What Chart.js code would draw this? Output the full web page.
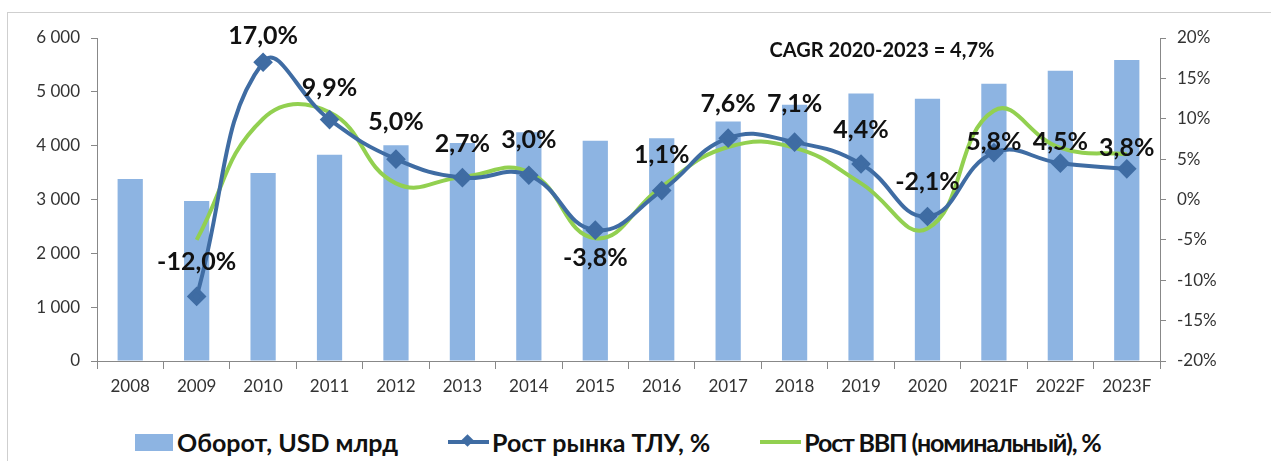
<!DOCTYPE html>
<html>
<head>
<meta charset="utf-8">
<script src="https://cdn.jsdelivr.net/npm/chart.js@4.4.0/dist/chart.umd.min.js"></script>
<style>
  body { margin: 0; background: #fff; }
  #wrap { position: relative; width: 1271px; height: 461px; overflow: hidden; }
  #frame { position: absolute; left: 7px; top: 12px; width: 1300px; height: 500px;
           border-top: 1px solid #cfcfcf; border-left: 1px solid #cfcfcf; }
  #chart { position: absolute; left: 0; top: 0; }
  #legend { position: absolute; left: 135px; top: 427px; display: flex; align-items: center;
            font: bold 25px Lato, 'Noto Sans', sans-serif; color: #111; white-space: nowrap; }
  .item { display: flex; align-items: center; margin-right: 50px; }
  .box { width: 38px; height: 17px; background: #8db4e2; margin-right: 4px; }
  .ln { position: relative; width: 41px; height: 4px; margin-right: 3px; }
  .dm { position: absolute; left: 15px; top: -4px; width: 9px; height: 9px; transform: rotate(45deg); }
  .tight { letter-spacing: -1.2px; }
</style>
</head>
<body>
<div id="wrap">
  <div id="frame"></div>
  <canvas id="chart" width="1271" height="405"></canvas>
  <div id="legend">
    <div class="item"><div class="box"></div>Оборот, USD млрд</div>
    <div class="item"><div class="ln" style="background:#3f6ca3"><div class="dm" style="background:#3f6ca3"></div></div>Рост рынка ТЛУ, %</div>
    <div class="item"><div class="ln" style="background:#92d050"></div><span class="tight">Рост ВВП (номинальный), %</span></div>
  </div>
</div>
<script>
const years = ['2008', '2009', '2010', '2011', '2012', '2013', '2014', '2015',
               '2016', '2017', '2018', '2019', '2020', '2021F', '2022F', '2023F'];
const turnover = [3380, 2970, 3490, 3830, 4010, 4050, 4250, 4090,
                  4140, 4450, 4760, 4970, 4870, 5150, 5390, 5590];
const marketGrowth = [null, -12.0, 17.0, 9.9, 5.0, 2.7, 3.0, -3.8,
                      1.1, 7.6, 7.1, 4.4, -2.1, 5.8, 4.5, 3.8];
const gdpGrowth = [null, -5.0, 10.0, 10.8, 2.0, 2.8, 3.4, -4.8,
                   1.6, 6.5, 6.4, 2.0, -3.6, 11.0, 6.4, 5.6];
const cagrText = 'CAGR 2020-2023 = 4,7%';

// where each growth label sits relative to its point
const labelShift = [0, -34, -26, -32, -37, -34, -35, 28, -36, -34, -38, -34, -35, -11, -21, -21];

const tickFont = { family: "Lato, sans-serif", size: 17 };

const growthLabels = {
    id: 'growthLabels',
    afterDatasetsDraw(chart) {
        const ctx = chart.ctx;
        const meta = chart.getDatasetMeta(1);
        ctx.save();
        ctx.font = 'bold 25px Lato, sans-serif';
        ctx.fillStyle = '#111';
        ctx.textAlign = 'center';
        ctx.textBaseline = 'middle';
        meta.data.forEach((pt, i) => {
            const v = marketGrowth[i];
            if (v === null) return;
            const txt = v.toFixed(1).replace('.', ',') + '%';
            ctx.fillText(txt, pt.x, pt.y + labelShift[i]);
        });
        ctx.font = 'bold 20px Lato, sans-serif';
        ctx.fillText(cagrText, 882, 51);
        ctx.restore();
    }
};

new Chart(document.getElementById('chart').getContext('2d'), {
    type: 'bar',
    data: {
        labels: years,
        datasets: [{
            type: 'bar',
            data: turnover,
            backgroundColor: '#8db4e2',
            categoryPercentage: 1,
            barPercentage: 0.38,
            yAxisID: 'y',
            order: 3
        }, {
            type: 'line',
            data: marketGrowth,
            borderColor: '#3f6ca3',
            backgroundColor: '#3f6ca3',
            borderWidth: 4,
            pointStyle: 'rectRot',
            pointRadius: 7,
            tension: 0.45,
            yAxisID: 'y1',
            order: 1
        }, {
            type: 'line',
            data: gdpGrowth,
            borderColor: '#92d050',
            borderWidth: 4,
            pointRadius: 0,
            tension: 0.45,
            yAxisID: 'y1',
            order: 2
        }]
    },
    options: {
        responsive: false,
        animation: false,
        layout: { padding: { top: 38, left: 0, right: 0, bottom: 0 } },
        scales: {
            x: {
                grid: { drawOnChartArea: false, tickLength: 8, color: '#888', offset: true },
                border: { color: '#888' },
                ticks: { font: tickFont, color: '#333', padding: 7 },
                afterFit: s => { s.height = 405 - 361; }
            },
            y: {
                min: 0, max: 6000,
                ticks: {
                    stepSize: 1000, font: tickFont, color: '#333', padding: 11,
                    callback: v => v === 0 ? '0' : Math.floor(v / 1000) + ' ' + String(v % 1000).padStart(3, '0')
                },
                grid: { drawOnChartArea: false, tickLength: 6, color: '#888' },
                border: { color: '#888' },
                afterFit: s => { s.width = 97; }
            },
            y1: {
                position: 'right',
                min: -20, max: 20,
                ticks: { stepSize: 5, font: tickFont, color: '#333', padding: 11, callback: v => v + '%' },
                grid: { drawOnChartArea: false, tickLength: 6, color: '#888' },
                border: { color: '#888' },
                afterFit: s => { s.width = 1271 - 1160; }
            }
        },
        plugins: {
            legend: { display: false },
            tooltip: { enabled: false }
        }
    },
    plugins: [growthLabels]
});
</script>
</body>
</html>
